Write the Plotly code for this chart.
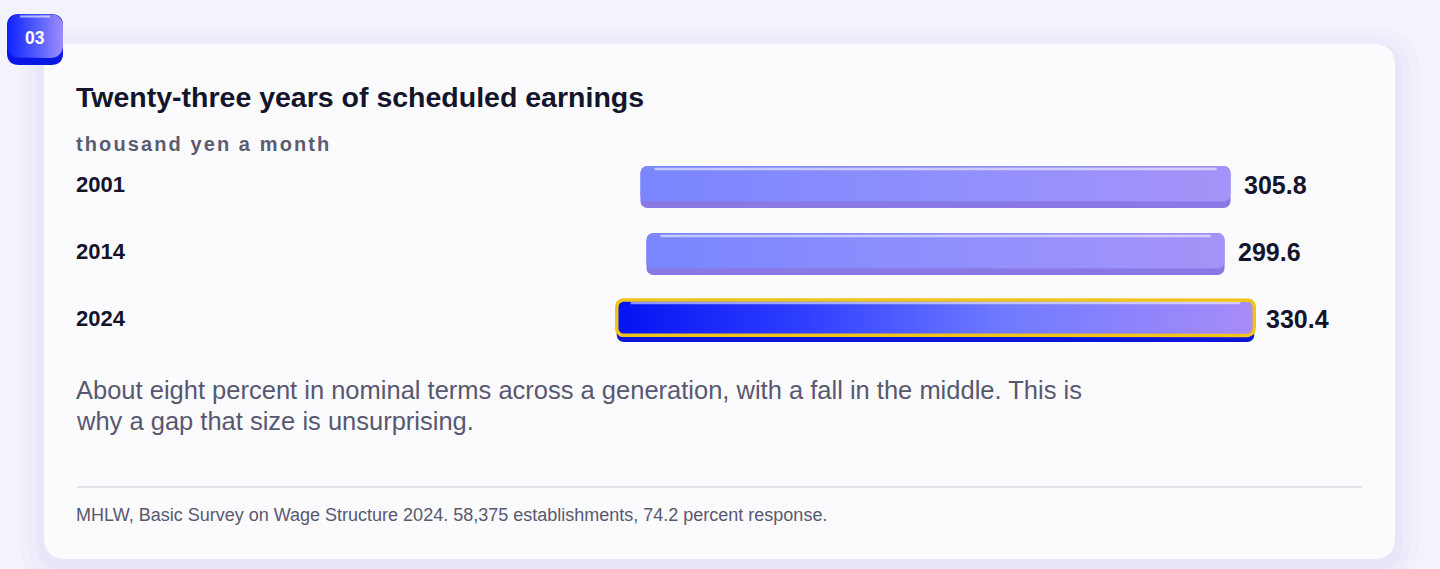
import numpy as np
import plotly.graph_objects as go

# figure size in pixels
W, H = 1440, 569

# data
years = ["2001", "2014", "2024"]
earnings = [305.8, 299.6, 330.4]  # thousand yen a month
highlight = [False, False, True]

title = "Twenty-three years of scheduled earnings"
subtitle = "thousand yen a month"
note_lines = [
    "About eight percent in nominal terms across a generation, with a fall in the middle. This is",
    "why a gap that size is unsurprising.",
]
source = "MHLW, Basic Survey on Wage Structure 2024. 58,375 establishments, 74.2 percent response."

FONT = "Liberation Sans, Arial, Helvetica, sans-serif"
INK = "#14142b"
GREY = "#585870"
LEFT = 74  # left edge of the text column


def rounded(x0, x1, y0, y1, rx, ry, n=7):
    # closed polygon of a rectangle with rounded corners
    xs, ys = [], []
    centers = [(x1 - rx, y1 - ry), (x0 + rx, y1 - ry), (x0 + rx, y0 + ry), (x1 - rx, y0 + ry)]
    for k, (cx, cy) in enumerate(centers):
        t = np.linspace(k * np.pi / 2, (k + 1) * np.pi / 2, n)
        xs += list(cx + rx * np.cos(t))
        ys += list(cy + ry * np.sin(t))
    xs.append(xs[0])
    ys.append(ys[0])
    return xs, ys


def rr_path(x0, y0, x1, y1, r):
    return (f"M{x0+r},{y0} L{x1-r},{y0} Q{x1},{y0} {x1},{y0+r} L{x1},{y1-r} "
            f"Q{x1},{y1} {x1-r},{y1} L{x0+r},{y1} Q{x0},{y1} {x0},{y1-r} "
            f"L{x0},{y0+r} Q{x0},{y0} {x0+r},{y0} Z")


fig = go.Figure()

# ---- decoration layer (pixel axes x/y) ----
shapes = []
for grow, alpha in [(24, 0.018), (16, 0.025), (8, 0.035)]:
    shapes.append(dict(type="path", xref="x", yref="y", layer="below",
                       path=rr_path(44 - grow, 44 - grow + 8, 1395 + grow, 559 + grow + 4, 22 + grow),
                       fillcolor=f"rgba(110,100,240,{alpha})", line=dict(width=0)))
shapes.append(dict(type="path", xref="x", yref="y", layer="below",
                   path=rr_path(44, 44, 1395, 559, 22),
                   fillcolor="#fbfbfe", line=dict(width=0)))
shapes.append(dict(type="line", xref="x", yref="y", layer="below",
                   x0=77, x1=1362, y0=487, y1=487, line=dict(color="#e2e2ea", width=2)))
# badge base
shapes.append(dict(type="path", xref="x", yref="y", layer="below",
                   path=rr_path(7, 14, 63, 65, 12),
                   fillcolor="#0a16e6", line=dict(width=0)))

bx, by = rounded(7, 63, 14, 58, 12, 12)
fig.add_trace(go.Scatter(x=bx, y=by, fill="toself", mode="lines", line=dict(width=0),
                         fillgradient=dict(type="horizontal",
                                           colorscale=[[0, "#1020ff"], [0.55, "#5560ff"], [1, "#a08cfb"]]),
                         hoverinfo="skip", showlegend=False, xaxis="x", yaxis="y"))
fig.add_trace(go.Scatter(x=[20, 50], y=[16.5, 16.5], mode="lines",
                         line=dict(color="rgba(255,255,255,0.6)", width=2),
                         hoverinfo="skip", showlegend=False, xaxis="x", yaxis="y"))

# ---- data layer (x2/y2) ----
idx = list(range(len(years)))
band_colors = ["#0a14d8" if h else "#8a78e4" for h in highlight]
fig.add_trace(go.Bar(
    y=idx, x=earnings, base=[-v / 2 for v in earnings], orientation="h",
    width=0.63, marker=dict(color=band_colors, cornerradius=7, line=dict(width=0)),
    hoverinfo="skip", showlegend=False, xaxis="x2", yaxis="y2",
))

px_x = 839 / 434.8   # pixels per data unit on x2
px_y = 67            # pixels per row on y2
rx, ry = 7 / px_x, 7 / px_y
for i, v, h in zip(idx, earnings, highlight):
    fx, fy = rounded(-v / 2, v / 2, i - 0.315, i + 0.215, rx, ry)
    if h:
        scale = [[0, "#0512f2"], [0.3, "#3040ff"], [0.6, "#6e7aff"], [1, "#a88cf8"]]
        line = dict(color="#f0c41c", width=3.5)
    else:
        scale = [[0, "#7986ff"], [0.5, "#8f8ffd"], [1, "#a593f8"]]
        line = dict(width=0)
    fig.add_trace(go.Scatter(x=fx, y=fy, fill="toself", mode="lines", line=line,
                             fillgradient=dict(type="horizontal", colorscale=scale),
                             hoverinfo="skip", showlegend=False, xaxis="x2", yaxis="y2"))
    fig.add_trace(go.Scatter(x=[-v / 2 + 2 * rx, v / 2 - 2 * rx], y=[i - 0.27, i - 0.27], mode="lines",
                             line=dict(color="rgba(255,255,255,0.55)", width=2.5),
                             hoverinfo="skip", showlegend=False, xaxis="x2", yaxis="y2"))

annotations = []
for i, v, yr, h in zip(idx, earnings, years, highlight):
    annotations.append(dict(x=v / 2, y=i - 0.03, xref="x2", yref="y2", text=f"{v:.1f}",
                            xanchor="left", yanchor="middle", xshift=10 if h else 11,
                            showarrow=False, font=dict(family=FONT, size=25, color=INK, weight=700)))
    annotations.append(dict(x=LEFT, y=i - 0.03, xref="x", yref="y2", text=yr,
                            xanchor="left", yanchor="middle", showarrow=False,
                            font=dict(family=FONT, size=22, color=INK, weight=700)))

annotations += [
    dict(x=LEFT, y=97, xref="x", yref="y", text=title, xanchor="left", yanchor="middle",
         showarrow=False, font=dict(family=FONT, size=28.5, color=INK, weight=700)),
    # letter spacing is added after drawing and spreads the text both ways
    dict(x=LEFT + 21, y=144, xref="x", yref="y", text=subtitle, xanchor="left", yanchor="middle",
         showarrow=False, font=dict(family=FONT, size=20, color="#5c5c70", weight=700)),
    dict(x=LEFT, y=390, xref="x", yref="y", text=note_lines[0], xanchor="left", yanchor="middle",
         showarrow=False, font=dict(family=FONT, size=25.5, color=GREY)),
    dict(x=LEFT, y=421, xref="x", yref="y", text=note_lines[1], xanchor="left", yanchor="middle",
         showarrow=False, font=dict(family=FONT, size=25.5, color=GREY)),
    dict(x=LEFT, y=515, xref="x", yref="y", text=source, xanchor="left", yanchor="middle",
         showarrow=False, font=dict(family=FONT, size=18, color=GREY)),
    dict(x=35, y=38, xref="x", yref="y", text="03", xanchor="center", yanchor="middle",
         showarrow=False, font=dict(family=FONT, size=17.5, color="white", weight=700)),
]

fig.update_layout(
    width=W, height=H,
    margin=dict(l=0, r=0, t=0, b=0),
    paper_bgcolor="#f3f3fb",
    plot_bgcolor="rgba(0,0,0,0)",
    shapes=shapes,
    annotations=annotations,
    showlegend=False,
    xaxis=dict(domain=[0, 1], range=[0, W], visible=False, fixedrange=True),
    yaxis=dict(domain=[0, 1], range=[H, 0], visible=False, fixedrange=True),
    xaxis2=dict(domain=[516 / W, 1355 / W], range=[-217.4, 217.4], anchor="y2",
                visible=False, fixedrange=True),
    yaxis2=dict(domain=[1 - 360 / H, 1 - 150 / H], range=[2.582, -0.552], anchor="x2",
                visible=False, fixedrange=True),
)

# no page margin, and letter spacing for the unit line
post = """
document.body.style.margin = '0';
document.body.style.overflow = 'hidden';
var gd = document.getElementById('{plot_id}');
function spaceUnit() {
  gd.querySelectorAll('.annotation-text').forEach(function (t) {
    if (t.textContent === 'thousand yen a month') { t.style.letterSpacing = '2.1px'; }
  });
}
spaceUnit();
gd.on('plotly_afterplot', spaceUnit);
"""

fig.write_html("out.html", config={"displayModeBar": False}, post_script=post)
